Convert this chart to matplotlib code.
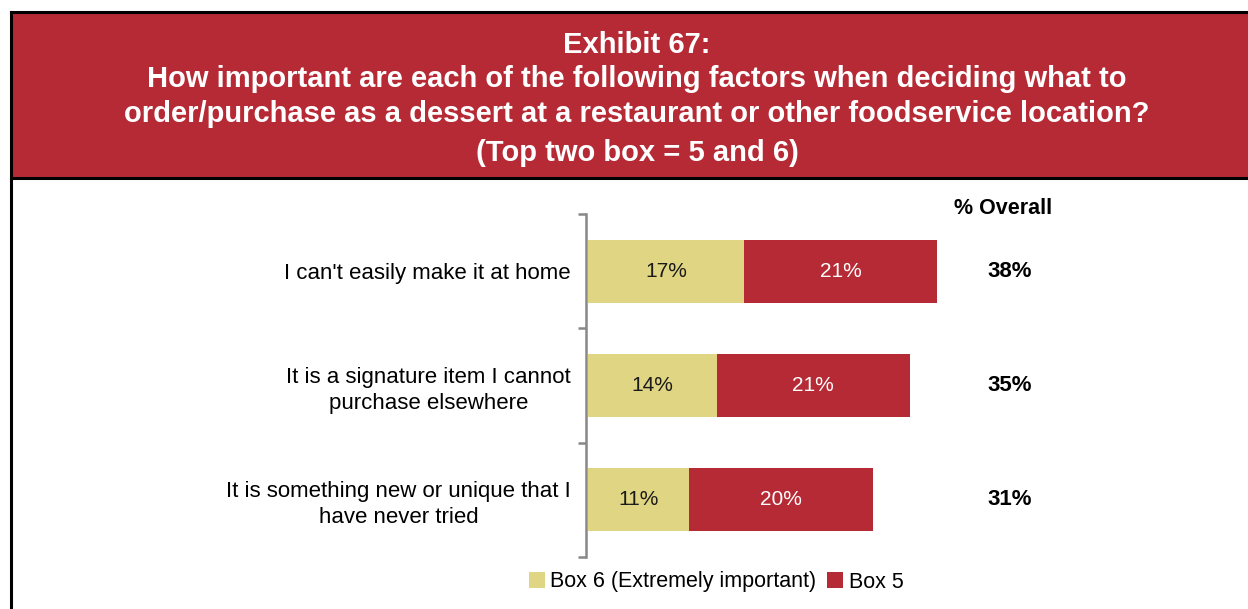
import matplotlib
matplotlib.use("Agg")
import matplotlib.pyplot as plt
from matplotlib.patches import Rectangle
from matplotlib.lines import Line2D
import numpy as np

plt.rcParams['font.family'] = ['Liberation Sans', 'DejaVu Sans']

# Survey data
categories = [
    "I can't easily make it at home",
    "It is a signature item I cannot\npurchase elsewhere",
    "It is something new or unique that I\nhave never tried",
]
box6 = [17, 14, 11]
box5 = [21, 21, 20]
overall = [38, 35, 31]
series_names = ["Box 6 (Extremely important)", "Box 5"]

title_lines = [
    "Exhibit 67:",
    "How important are each of the following factors when deciding what to",
    "order/purchase as a dessert at a restaurant or other foodservice location?",
    "(Top two box = 5 and 6)",
]

YELLOW = "#E0D582"
RED = "#B52A35"

W, H = 1248, 609
fig = plt.figure(figsize=(W / 100, H / 100), dpi=100)


def fx(x):
    return x / W


def fy(y):
    return 1 - y / H


# Header band and frame
fig.patches.append(Rectangle((fx(11), fy(178)), fx(W - 11), fy(12) - fy(178),
                             transform=fig.transFigure, facecolor=RED,
                             edgecolor="none", zorder=0))
for xs, ys in [((11, W), (12, 12)), ((11, W), (178, 178)), ((11, 11), (12, H))]:
    fig.add_artist(Line2D([fx(x) for x in xs], [fy(y) for y in ys],
                          transform=fig.transFigure, color="black", lw=2.2))

title_y = [45, 79, 114, 153]
for line, y in zip(title_lines, title_y):
    fig.text(fx(637), fy(y), line, ha="center", va="center", color="white",
             fontsize=21, fontweight="bold")

# Bar chart area
ax_left, ax_right = 586, 1200
ax_top, ax_bot = 214, 557
ax = fig.add_axes([fx(ax_left), fy(ax_bot), fx(ax_right - ax_left), fy(ax_top) - fy(ax_bot)])
ax.patch.set_alpha(0)

y = np.arange(len(categories))
bar_h = 0.55
b6 = ax.barh(y, box6, height=bar_h, color=YELLOW, label=series_names[0])
b5 = ax.barh(y, box5, left=box6, height=bar_h, color=RED, label=series_names[1])

for i in range(len(categories)):
    ax.text(box6[i] / 2, y[i], f"{box6[i]}%", ha="center", va="center",
            fontsize=15, color="#1a1a1a")
    ax.text(box6[i] + box5[i] / 2, y[i], f"{box5[i]}%", ha="center", va="center",
            fontsize=15, color="white")

px_per_unit = 9.2
ax.set_xlim(-0.2, (ax_right - ax_left) / px_per_unit - 0.2)
ax.set_ylim(len(categories) - 0.5, -0.5)

for s in ["top", "right", "bottom"]:
    ax.spines[s].set_visible(False)
ax.spines["left"].set_color("#888888")
ax.spines["left"].set_linewidth(1.8)
ax.set_xticks([])
ax.set_yticks(y)
ax.set_yticklabels(categories, fontsize=16, ha="right", multialignment="center",
                   linespacing=1.3)
ax.tick_params(axis="y", which="major", length=0, pad=11)
ax.set_yticks(np.arange(-0.5, len(categories)), minor=True)
ax.tick_params(axis="y", which="minor", length=6, width=1.8, color="#888888",
               direction="out")

# Overall column
fig.text(fx(1003), fy(208), "% Overall", ha="center", va="center",
         fontsize=15.5, fontweight="bold")
for i, v in enumerate(overall):
    ax.annotate(f"{v}%", xy=(fx(1010), y[i]), xycoords=("figure fraction", "data"),
                ha="center", va="center", fontsize=16, fontweight="bold")

fig.legend(handles=[b6, b5], labels=series_names, loc="center",
           bbox_to_anchor=(fx(716), fy(582)), ncol=2, frameon=False,
           fontsize=15.5, handlelength=0.75, handleheight=0.75,
           handletextpad=0.25, columnspacing=0.5, borderpad=0)

fig.savefig("out.png", dpi=100)
